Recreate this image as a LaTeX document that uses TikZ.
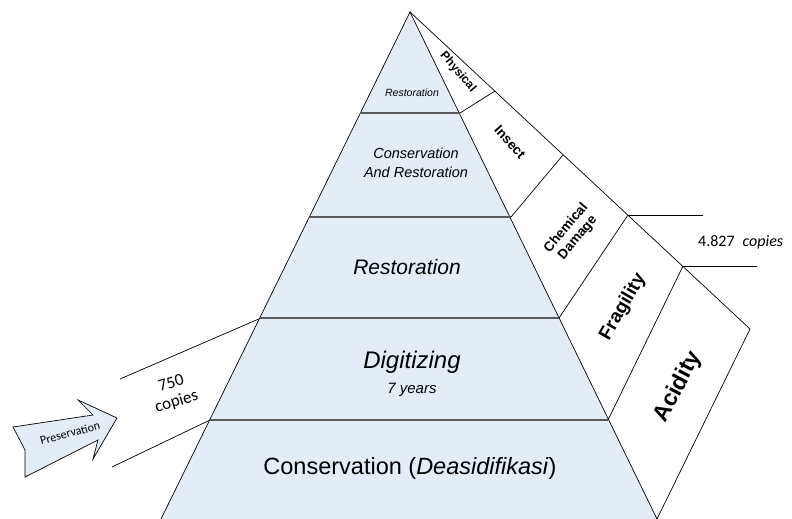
\documentclass[tikz,border=0pt]{standalone}
\usepackage{fontspec}
\setmainfont{Liberation Sans}
\newfontfamily\carlito{Carlito}
\usetikzlibrary{calc}
\definecolor{pyrfill}{HTML}{E4ECF6}

\begin{document}
\begin{tikzpicture}[x=1pt,y=-1pt,
    layerline/.style={draw=black!65,line width=1.1pt},
    thinline/.style={draw=black,line width=0.7pt},
    fsize/.style={font=\fontsize{#1}{#1}\selectfont},
    lvl/.style 2 args={inner sep=0pt,align=center,font=\fontsize{#1}{#2}\selectfont\itshape},
    cause/.style 2 args={inner sep=0pt,align=center,font=\fontsize{#1}{#2}\selectfont\bfseries}]
    \useasboundingbox (0,0) rectangle (792,519);

    \coordinate (T) at (410,12);
    % linke Kante
    \coordinate (L1) at (360,113);
    \coordinate (L2) at (310,217);
    \coordinate (L3) at (261,318);
    \coordinate (L4) at (210,420);
    \coordinate (L5) at (161,519);
    % rechte Kante
    \coordinate (R1) at (460,113);
    \coordinate (R2) at (511,217);
    \coordinate (R3) at (559,318);
    \coordinate (R4) at (608,420);
    \coordinate (R5) at (657,519);
    % aeussere Linie
    \coordinate (P1) at (495,91);
    \coordinate (P2) at (563,155);
    \coordinate (P3) at (628,215);
    \coordinate (P4) at (683,266);
    \coordinate (O4) at (750,329);

    \fill[pyrfill] (L5) -- (T) -- (R5) -- cycle;
    \draw[thinline] (L5) -- (T) -- (R5);
    \draw[layerline] (L1) -- (R1);
    \draw[layerline] (L2) -- (R2);
    \draw[layerline] (L3) -- (R3);
    \draw[layerline] (L4) -- (R4);

    \draw[thinline] (T) -- (O4) -- (R5);
    \draw[thinline] (R1) -- (P1);
    \draw[thinline] (R2) -- (P2);
    \draw[thinline] (R3) -- (P3);
    \draw[thinline] (R4) -- (P4);

    \draw[thinline] (P3) -- ++(75,0) coordinate (H1);
    \draw[thinline] (P4) -- ++(74,0) coordinate (H2);
    \draw[thinline] (L3) -- (120,379) coordinate (G1);
    \draw[thinline] (L4) -- (112,467) coordinate (G2);

    % Pfeil
    \draw[thinline,fill=pyrfill] (13,427) -- (93,415) -- (78,400) -- (117,418)
        -- (93,459) -- (98,440) -- (25,477) -- (25,450) -- cycle;

    \node[lvl={10.5}{12}] (top) at (412,93) {Restoration};
    \node[lvl={14.5}{19.5}] (car) at (416,163) {Conservation\\And Restoration};
    \node[lvl={21}{24}] (res) at (407,267) {Restoration};
    \node[lvl={24}{28}] (dig) at (412,362) {Digitizing};
    \node[lvl={15}{17}] (yrs) at (412,390) {7 years};
    \node[inner sep=0pt,fsize=23.5] (cons) at (410,468) {Conservation (\textit{Deasidifikasi})};

    \node[cause={12}{14},rotate=-50] (phy) at (458,72) {Physical};
    \node[cause={13.5}{15},rotate=-48] (ins) at (510,142) {Insect};
    \node[cause={13.5}{15},rotate=50] (chem) at (572,233) {Chemical\\Damage};
    \node[cause={19}{21},rotate=60] (frag) at (623,307) {Fragility};
    \node[cause={23}{26},rotate=62] (acid) at (678,387) {Acidity};

    \node[inner sep=0pt,align=center,rotate=17,font=\carlito\fontsize{17}{19}\selectfont] (left) at (174,393) {750\\copies};
    \node[inner sep=0pt,anchor=west,font=\carlito\fontsize{16}{16}\selectfont] (right) at (698,242) {4.827\enspace\textit{copies}};
    \node[inner sep=0pt,rotate=15,font=\carlito\fontsize{12}{12}\selectfont] (pres) at (70,433) {Preservation};
\end{tikzpicture}
\end{document}
